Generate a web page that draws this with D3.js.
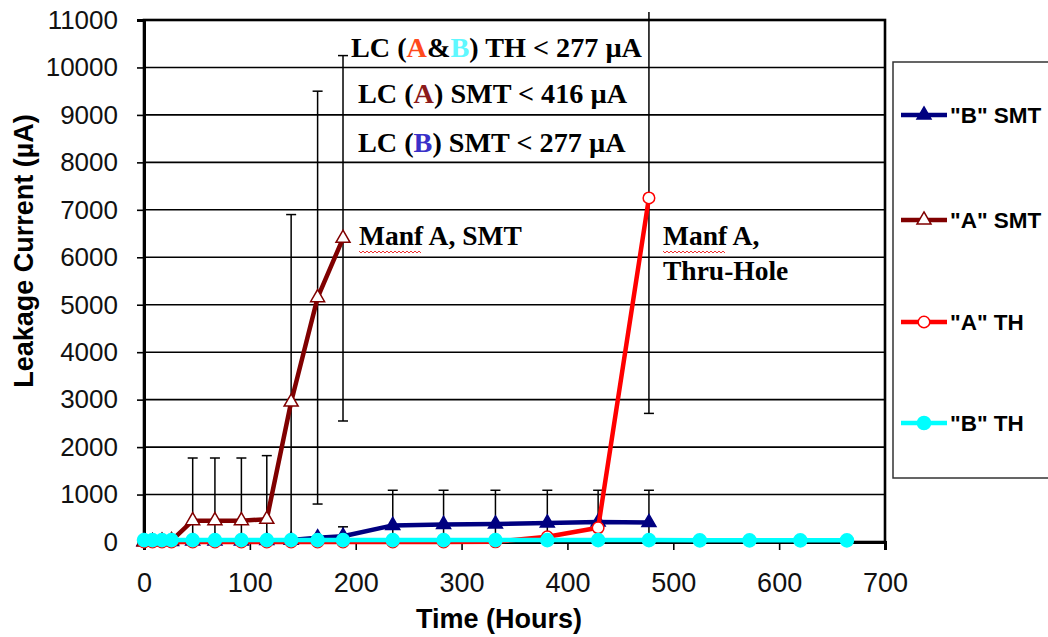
<!DOCTYPE html>
<html>
<head>
<meta charset="utf-8">
<script src="https://cdn.jsdelivr.net/npm/d3@7"></script>
<style>
  body { margin: 0; background: #fff; }
  svg { display: block; }
</style>
</head>
<body>
<svg id="chart" width="1048" height="637"></svg>
<script>
// Sampling times (hours) shared by all four series
const hours = [0, 8, 17, 26, 46, 67, 92, 116, 139, 164, 188, 235, 283, 332, 381, 429, 477, 525, 572, 620, 664];

// Leakage current (µA) per series; null = not measured
const bSmt = [10, 10, 10, 10, 20, 20, 20, 30, 40, 90, 120, 350, 370, 380, 400, 420, 410, null, null, null, null];
const aSmt = [0, 10, 20, 30, 450, 450, 450, 480, 2950, 5150, 6400, null, null, null, null, null, null, null, null, null, null];
const aTh  = [0, 0, 0, 0, 0, 0, 0, 0, 0, 0, 0, 0, 0, 5, 110, 300, 7250, null, null, null, null];
const bTh  = [40, 40, 40, 40, 40, 40, 40, 40, 40, 40, 40, 40, 40, 40, 40, 40, 40, 35, 35, 35, 35];

// Standard-deviation error bars (µA); null = no bar
const bSmtErr = [null, null, null, null, null, null, null, null, null, null, 200, 740, 720, 710, 690, 670, 680, null, null, null, null];
const aSmtErr = [null, null, null, null, 1320, 1320, 1320, 1340, 3950, 4350, 3850, null, null, null, null, null, null, null, null, null, null];
const aThErr  = [null, null, null, null, null, null, null, null, null, null, null, null, null, null, null, null, 4540, null, null, null, null];

// Axis ticks
const xTicks = [0, 100, 200, 300, 400, 500, 600, 700];
const yTicks = [0, 1000, 2000, 3000, 4000, 5000, 6000, 7000, 8000, 9000, 10000, 11000];

const seriesNames = ['"B" SMT', '"A" SMT', '"A" TH', '"B" TH'];

const series = [
  { name: seriesNames[0], values: bSmt, err: bSmtErr, color: "#000080", marker: d3.symbolTriangle, fill: "#000080", size: 85 },
  { name: seriesNames[1], values: aSmt, err: aSmtErr, color: "#800000", marker: d3.symbolTriangle, fill: "#fff", size: 85 },
  { name: seriesNames[2], values: aTh,  err: aThErr,  color: "#ff0000", marker: d3.symbolCircle,   fill: "#fff", size: 105 },
  { name: seriesNames[3], values: bTh,  err: null,    color: "#00ffff", marker: d3.symbolCircle,   fill: "#00ffff", size: 135 }
];

const svg = d3.select("#chart");

const x = d3.scaleLinear().domain([0, 700]).range([144, 885]);
const y = d3.scaleLinear().domain([0, 11000]).range([542, 20]);

// Horizontal gridlines
svg.append("g")
  .selectAll("line")
  .data(yTicks.filter(v => v > 0 && v < 11000))
  .join("line")
  .attr("x1", x(0)).attr("x2", x(700))
  .attr("y1", d => y(d)).attr("y2", d => y(d))
  .attr("stroke", "#000").attr("stroke-width", 1.6);

// Plot frame
svg.append("rect")
  .attr("x", x(0)).attr("y", y(11000))
  .attr("width", x(700) - x(0)).attr("height", y(0) - y(11000))
  .attr("fill", "none").attr("stroke", "#000").attr("stroke-width", 2.6);

// Y axis
const yAxis = svg.append("g")
  .attr("transform", `translate(${x(0)},0)`)
  .call(d3.axisLeft(y).tickValues(yTicks).tickSize(7).tickPadding(19).tickFormat(d3.format("d")));
yAxis.select(".domain").attr("stroke", "#000").attr("stroke-width", 3);
yAxis.selectAll(".tick line").attr("stroke", "#000").attr("stroke-width", 1.6);
yAxis.selectAll(".tick text")
  .attr("font-family", "'Liberation Sans', Arial, sans-serif")
  .attr("font-size", 26).attr("fill", "#111");

// X axis
const xAxis = svg.append("g")
  .attr("transform", `translate(0,${y(0)})`)
  .call(d3.axisBottom(x).tickValues(xTicks).tickSize(8).tickFormat(d3.format("d")));
xAxis.select(".domain").attr("stroke", "#000").attr("stroke-width", 3);
xAxis.selectAll(".tick line").attr("stroke", "#000").attr("stroke-width", 1.6);
xAxis.selectAll(".tick text")
  .attr("dy", null).attr("y", 50)
  .attr("font-family", "'Liberation Sans', Arial, sans-serif")
  .attr("font-size", 27).attr("fill", "#111");

// Axis titles
svg.append("text")
  .attr("transform", `translate(33,251) rotate(-90)`)
  .attr("text-anchor", "middle")
  .attr("font-family", "'Liberation Sans', Arial, sans-serif")
  .attr("font-weight", "bold").attr("font-size", 27)
  .text("Leakage Current (µA)");

svg.append("text")
  .attr("x", 499).attr("y", 628)
  .attr("text-anchor", "middle")
  .attr("font-family", "'Liberation Sans', Arial, sans-serif")
  .attr("font-weight", "bold").attr("font-size", 27)
  .text("Time (Hours)");

// Error bars are trimmed at the zero line and the chart's top edge
svg.append("clipPath").attr("id", "errClip")
  .append("rect").attr("x", 0).attr("y", 12).attr("width", 1048).attr("height", y(0) - 12);

const line = d3.line()
  .defined(d => d.v != null)
  .x(d => x(d.t)).y(d => y(d.v));

series.forEach(s => {
  const pts = hours.map((t, i) => ({ t, v: s.values[i], e: s.err ? s.err[i] : null }));
  const g = svg.append("g");

  // error bars
  const eb = g.append("g").attr("clip-path", "url(#errClip)")
    .selectAll("g").data(pts.filter(p => p.v != null && p.e != null)).join("g")
    .attr("stroke", "#000").attr("stroke-width", 1.5);
  eb.append("line")
    .attr("x1", d => x(d.t)).attr("x2", d => x(d.t))
    .attr("y1", d => y(d.v - d.e)).attr("y2", d => y(d.v + d.e));
  eb.append("line")
    .attr("x1", d => x(d.t) - 5).attr("x2", d => x(d.t) + 5)
    .attr("y1", d => y(d.v + d.e)).attr("y2", d => y(d.v + d.e));
  eb.append("line")
    .attr("x1", d => x(d.t) - 5).attr("x2", d => x(d.t) + 5)
    .attr("y1", d => y(d.v - d.e)).attr("y2", d => y(d.v - d.e));

  // line
  g.append("path").datum(pts)
    .attr("d", line)
    .attr("fill", "none").attr("stroke", s.color)
    .attr("stroke-width", 4.5).attr("stroke-linejoin", "round");

  // markers
  g.selectAll("path.mk").data(pts.filter(p => p.v != null)).join("path")
    .attr("class", "mk")
    .attr("transform", d => `translate(${x(d.t)},${y(d.v)})`)
    .attr("d", d3.symbol().type(s.marker).size(s.size))
    .attr("fill", s.fill).attr("stroke", s.color).attr("stroke-width", 1.5);
});

// Legend
const legend = svg.append("g");
legend.append("rect")
  .attr("x", 893).attr("y", 62).attr("width", 170).attr("height", 416)
  .attr("fill", "#fff").attr("stroke", "#333").attr("stroke-width", 1.5);
const legendY = [115, 220, 322, 423];
series.forEach((s, i) => {
  const item = legend.append("g").attr("transform", `translate(0,${legendY[i]})`);
  item.append("line").attr("x1", 901).attr("x2", 947).attr("y1", 0).attr("y2", 0)
    .attr("stroke", s.color).attr("stroke-width", 4.5);
  item.append("path").attr("transform", "translate(924,0)")
    .attr("d", d3.symbol().type(s.marker).size(s.size))
    .attr("fill", s.fill).attr("stroke", s.color).attr("stroke-width", 1.5);
  item.append("text").attr("x", 950).attr("y", 0).attr("dy", "0.35em")
    .attr("font-family", "'Liberation Sans', Arial, sans-serif")
    .attr("font-weight", "bold").attr("font-size", 22.5)
    .text(s.name);
});

// Limit notes and manufacturer labels
const serif = "'Liberation Serif', 'Times New Roman', serif";
const notes = [
  { x: 351, y: 57,  parts: [["LC (", "#000"], ["A", "#ff4a1c"], ["&", "#000"], ["B", "#5ff8ff"], [") TH < 277 µA", "#000"]] },
  { x: 358, y: 103, parts: [["LC (", "#000"], ["A", "#8b1a1a"], [") SMT < 416 µA", "#000"]] },
  { x: 358, y: 152, parts: [["LC (", "#000"], ["B", "#3a30c8"], [") SMT < 277 µA", "#000"]] }
];
notes.forEach(n => {
  const t = svg.append("text").attr("x", n.x).attr("y", n.y)
    .attr("font-family", serif).attr("font-weight", "bold").attr("font-size", 28.2);
  n.parts.forEach(([txt, c]) => t.append("tspan").attr("fill", c).text(txt));
});

const labels = [
  { x: 359, y: 245, text: "Manf A, SMT" },
  { x: 663, y: 245, text: "Manf A," },
  { x: 663, y: 280, text: "Thru-Hole" }
];
labels.forEach(l => {
  svg.append("text").attr("x", l.x).attr("y", l.y)
    .attr("font-family", serif).attr("font-weight", "bold").attr("font-size", 27.5)
    .text(l.text);
});

// Spell-check squiggles under "Manf"
[[359, 420], [663, 725]].forEach(([a, b]) => {
  const p = d3.path();
  p.moveTo(a, 251);
  for (let xx = a, k = 0; xx < b; xx += 2, k++) p.lineTo(xx + 2, k % 2 ? 251 : 253);
  svg.append("path").attr("d", p.toString()).attr("fill", "none")
    .attr("stroke", "#e33").attr("stroke-width", 1);
});
</script>
</body>
</html>
